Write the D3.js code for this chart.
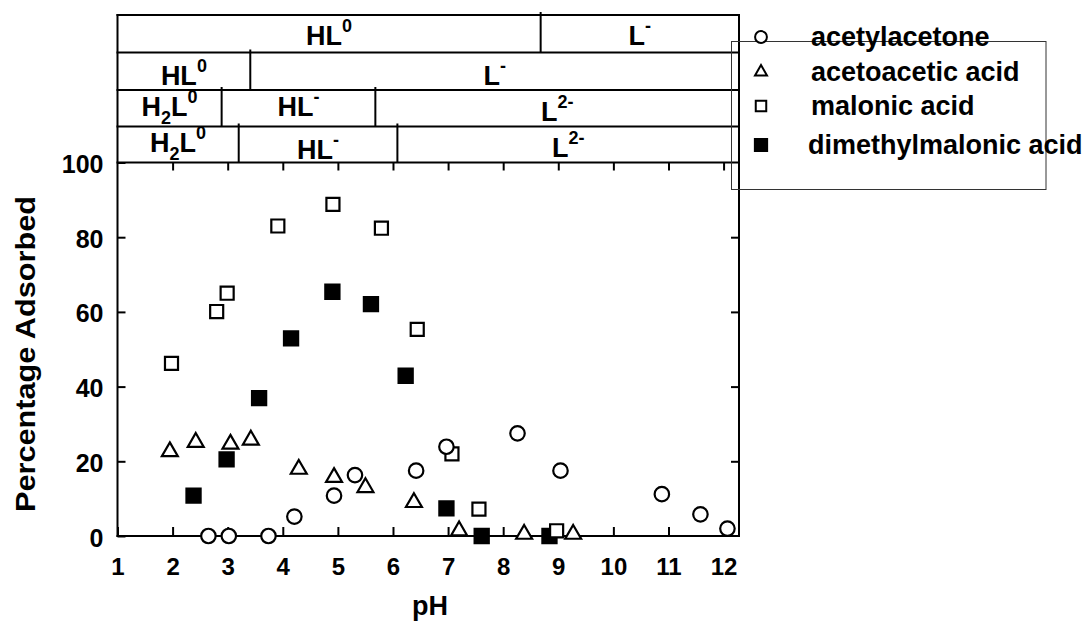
<!DOCTYPE html>
<html>
<head>
<meta charset="utf-8">
<script src="https://cdn.jsdelivr.net/npm/d3@7"></script>
<style>
  body { margin: 0; background: #fff; }
  svg { display: block; font-family: "Liberation Sans", Arial, sans-serif; font-weight: bold; }
</style>
</head>
<body>
<svg id="chart" width="1091" height="632"></svg>
<script>
"use strict";

// data
const acacPH   = [2.65, 3.02, 3.74, 4.21, 4.93, 5.31, 6.42, 6.97, 8.26, 9.04, 10.88, 11.58, 12.07];
const acacPct  = [0, 0, 0, 5.2, 10.8, 16.3, 17.5, 23.9, 27.5, 17.5, 11.2, 5.8, 2.0];
const acetoPH  = [1.95, 2.42, 3.05, 3.42, 4.29, 4.93, 5.50, 6.38, 7.20, 8.38, 9.27];
const acetoPct = [22.6, 25.1, 24.6, 25.7, 17.9, 15.7, 13.0, 9.0, 1.4, 0.5, 0.5];
const malPH    = [1.98, 2.80, 2.99, 3.91, 4.91, 5.79, 6.44, 7.07, 7.56, 8.97];
const malPct   = [46.2, 60.1, 65.0, 83.0, 88.8, 82.4, 55.3, 22.0, 7.2, 1.4];
const dmmPH    = [2.38, 2.98, 3.57, 4.15, 4.90, 5.60, 6.23, 6.97, 7.61, 8.84];
const dmmPct   = [10.8, 20.5, 36.9, 52.9, 65.4, 62.1, 42.9, 7.4, 0, 0];

const seriesNames = ["acetylacetone", "acetoacetic acid", "malonic acid", "dimethylmalonic acid"];

// speciation bands (pH breaks + labels), one row per ligand
const band1Breaks = [8.68];
const band1Labels = ["HL^0", "L^-"];
const band2Breaks = [3.41];
const band2Labels = ["HL^0", "L^-"];
const band3Breaks = [2.89, 5.68];
const band3Labels = ["H_2L^0", "HL^-", "L^2-"];
const band4Breaks = [3.20, 6.08];
const band4Labels = ["H_2L^0", "HL^-", "L^2-"];

const xTicks = d3.range(1, 13);
const yTicks = [0, 20, 40, 60, 80, 100];

const svg = d3.select("#chart");
const pLeft = 117.5, pRight = 739, pTop = 162.5, pBottom = 536;

const x = d3.scaleLinear().domain([1, 12.28]).range([pLeft, pRight]);
const y = d3.scaleLinear().domain([0, 100]).range([pBottom, pTop]);

// axes, ticks pointing inwards
const gx = svg.append("g")
    .attr("transform", `translate(0,${pBottom})`)
    .call(d3.axisBottom(x).tickValues(xTicks).tickSizeInner(-9).tickSizeOuter(0).tickPadding(22));
const gy = svg.append("g")
    .attr("transform", `translate(${pLeft},0)`)
    .call(d3.axisLeft(y).tickValues(yTicks).tickSizeInner(-8).tickSizeOuter(0).tickPadding(14));
const gt = svg.append("g")
    .attr("transform", `translate(0,${pTop})`)
    .call(d3.axisTop(x).tickValues(xTicks.slice(1)).tickSizeInner(-8).tickSizeOuter(0).tickFormat(""));
const gr = svg.append("g")
    .attr("transform", `translate(${pRight},0)`)
    .call(d3.axisRight(y).tickValues(yTicks.slice(1, -1)).tickSizeInner(-8).tickSizeOuter(0).tickFormat(""));

[gx, gy, gt, gr].forEach(g => {
    g.attr("font-family", null).attr("font-size", null);
    g.select(".domain").remove();
    g.selectAll(".tick line").attr("stroke", "#000").attr("stroke-width", 2);
});
gx.selectAll("text").style("font-size", "24px").attr("fill", "#000");
gy.selectAll("text").style("font-size", "25px").attr("fill", "#000").attr("dy", "0.40em");

// band rows
const rowY = [15, 52.5, 90, 126.5, pTop];
const bands = [
    [band1Breaks, band1Labels, [30, 30]],
    [band2Breaks, band2Labels, [32, 32]],
    [band3Breaks, band3Labels, [26, 26, 31]],
    [band4Breaks, band4Labels, [25, 32, 30]]
];

const frame = svg.append("g").attr("stroke", "#000").attr("stroke-width", 2).attr("fill", "none");
rowY.forEach(yy => frame.append("line").attr("x1", pLeft - 1).attr("x2", pRight + 1).attr("y1", yy).attr("y2", yy));
frame.append("line").attr("x1", pLeft).attr("x2", pLeft).attr("y1", rowY[0] - 1).attr("y2", pBottom + 1);
frame.append("line").attr("x1", pRight).attr("x2", pRight).attr("y1", rowY[0] - 1).attr("y2", pBottom + 1);
frame.append("line").attr("x1", pLeft - 1).attr("x2", pRight + 1).attr("y1", pBottom).attr("y2", pBottom);

function addLabel(g, str, cx, base) {
    const t = g.append("text").attr("x", cx).attr("y", base)
        .attr("text-anchor", "middle").style("font-size", "27px");
    const parts = str.match(/_.|\^.+$|[^_^]+/g);
    let shift = 0;
    parts.forEach(p => {
        if (p[0] === "_") {
            t.append("tspan").attr("dy", 8 - shift).style("font-size", "18px").text(p.slice(1));
            shift = 8;
        } else if (p[0] === "^") {
            t.append("tspan").attr("dy", -13 - shift).style("font-size", "18px").text(p.slice(1));
            shift = -13;
        } else {
            t.append("tspan").attr("dy", -shift).text(p);
            shift = 0;
        }
    });
}

const labels = svg.append("g").attr("fill", "#000");
bands.forEach(([breaks, labs, offs], i) => {
    const edges = [1].concat(breaks, [12.28]);
    breaks.forEach(b => frame.append("line")
        .attr("x1", x(b)).attr("x2", x(b)).attr("y1", rowY[i] - 3).attr("y2", rowY[i + 1]));
    labs.forEach((s, j) => addLabel(labels, s, (x(edges[j]) + x(edges[j + 1])) / 2, rowY[i] + offs[j]));
});

// markers
const sym = (type, size) => d3.symbol().type(type).size(size)();
const styles = [
    { pts: d3.zip(acacPH, acacPct),   type: d3.symbolCircle,   size: 165, fill: "#fff", leg: 110 },
    { pts: d3.zip(acetoPH, acetoPct), type: d3.symbolTriangle, size: 110, fill: "#fff", leg: 62 },
    { pts: d3.zip(malPH, malPct),     type: d3.symbolSquare,   size: 170, fill: "#fff", leg: 110 },
    { pts: d3.zip(dmmPH, dmmPct),     type: d3.symbolSquare,   size: 200, fill: "#000", leg: 150 }
];

const marks = svg.append("g");
// draw later series first so circles sit on top as in the figure
[3, 2, 1, 0].forEach(k => {
    const s = styles[k];
    marks.append("g").selectAll("path").data(s.pts).join("path")
        .attr("d", sym(s.type, s.size))
        .attr("transform", d => `translate(${x(d[0])},${y(d[1])})`)
        .attr("fill", s.fill).attr("stroke", "#000").attr("stroke-width", 2.2);
});

// legend
const legY = [37, 72, 106, 145];
const leg = svg.append("g");
leg.append("rect").attr("x", 731.5).attr("y", 41.5).attr("width", 314.5).attr("height", 148)
    .attr("fill", "none").attr("stroke", "#333").attr("stroke-width", 1);
styles.forEach((s, i) => {
    leg.append("path").attr("d", sym(s.type, s.leg))
        .attr("transform", `translate(761,${legY[i]})`)
        .attr("fill", s.fill).attr("stroke", "#000").attr("stroke-width", 2);
    leg.append("text").attr("x", i === 3 ? 808 : 811).attr("y", legY[i] + 9)
        .style("font-size", "27px").attr("fill", "#000").text(seriesNames[i]);
});

// axis titles
svg.append("text").attr("x", 430).attr("y", 615).attr("text-anchor", "middle")
    .style("font-size", "27px").text("pH");
svg.append("text").attr("transform", "translate(35,354) rotate(-90)").attr("text-anchor", "middle")
    .attr("textLength", 316).attr("lengthAdjust", "spacingAndGlyphs")
    .style("font-size", "28px").text("Percentage Adsorbed");
</script>
</body>
</html>
